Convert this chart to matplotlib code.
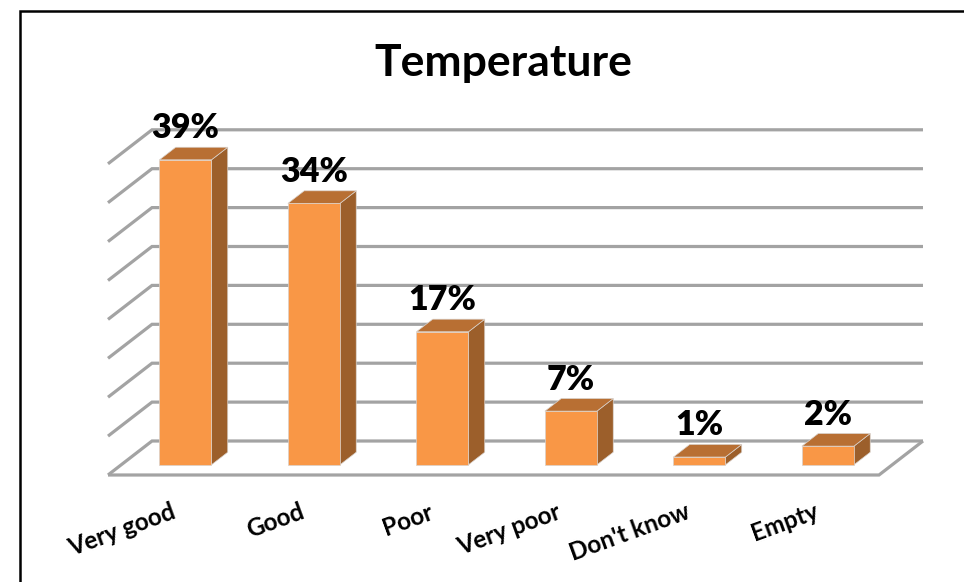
import matplotlib
matplotlib.use("Agg")
import matplotlib.pyplot as plt
from matplotlib.patches import Polygon
from matplotlib.lines import Line2D
from matplotlib.transforms import ScaledTranslation

categories = ["Very good", "Good", "Poor", "Very poor", "Don't know", "Empty"]
values = [39.2, 33.6, 17.1, 6.9, 1.0, 2.4]
value_labels = ["39%", "34%", "17%", "7%", "1%", "2%"]
grid_values = [0, 5, 10, 15, 20, 25, 30, 35, 40]

W, H = 964, 582
plt.rcParams["font.family"] = ["Lato", "DejaVu Sans"]
fig = plt.figure(figsize=(W / 100, H / 100), dpi=100, facecolor="white")

# floor front edge in pixels: x 108..879, y 475
left, right, floor_y = 108, 879, 475
px_y = 7.78                      # pixels per percent
px_x = (right - left) / 6        # pixels per category
ax = fig.add_axes([left / W, (H - floor_y) / H, (right - left) / W, 40 * px_y / H])
ax.set_xlim(-0.5, 5.5)
ax.set_ylim(0, 40)
ax.patch.set_visible(False)
for s in ax.spines.values():
    s.set_visible(False)
ax.set_yticks([])

# oblique depth: full depth in data units
DX = 44 / px_x
DY = 34 / px_y


def pt(x, y, d):
    return (x + d * DX, y + d * DY)


GRID = "#a3a3a3"
LW = 2.3
x0, x1 = -0.5, 5.5
for g in grid_values:
    ax.plot(*zip(pt(x0, g, 0), pt(x0, g, 1), pt(x1, g, 1)), color=GRID, lw=LW,
            clip_on=False, zorder=1, solid_capstyle="butt", solid_joinstyle="miter")
ax.plot(*zip(pt(x0, 0, 0), pt(x1, 0, 0), pt(x1, 0, 1)), color=GRID, lw=LW,
        clip_on=False, zorder=1, solid_capstyle="butt", solid_joinstyle="miter")

FRONT, SIDE, TOP = "#F99746", "#9C5F2B", "#B86F33"
EDGE = "#d9d2cc"
bw = 52 / px_x
d0, d1 = 0.30, 0.67
for i, v in enumerate(values):
    xl, xr = i - bw / 2, i + bw / 2
    side = [pt(xr, 0, d0), pt(xr, 0, d1), pt(xr, v, d1), pt(xr, v, d0)]
    top = [pt(xl, v, d0), pt(xr, v, d0), pt(xr, v, d1), pt(xl, v, d1)]
    front = [pt(xl, 0, d0), pt(xr, 0, d0), pt(xr, v, d0), pt(xl, v, d0)]
    for poly, c in ((side, SIDE), (top, TOP), (front, FRONT)):
        ax.add_patch(Polygon(poly, closed=True, facecolor=c, edgecolor=EDGE, lw=0.5,
                             clip_on=False, zorder=3, joinstyle="round"))
    fx, fy = pt(i, v, d0)
    ax.annotate(value_labels[i], xy=(fx, fy), xytext=(0, 15.5), textcoords="offset points",
                ha="center", va="baseline", fontsize=24.5, fontweight="heavy",
                color="black", zorder=5, annotation_clip=False)

ax.set_xticks(range(len(categories)))
ax.set_xticklabels(categories, rotation=20, ha="right", va="top", rotation_mode="anchor",
                   fontsize=17.5, fontweight="bold", color="black")
ax.tick_params(axis="x", length=0, pad=18)
shift = ScaledTranslation(-1 / 72, 0, fig.dpi_scale_trans)
for t in ax.get_xticklabels():
    t.set_transform(t.get_transform() + shift)

fig.text(503 / W, 1 - 76 / H, "Temperature", ha="center", va="baseline",
         fontsize=32, fontweight="bold", color="black")

# outer frame
fig.add_artist(Line2D([20 / W, 20 / W, 1], [0, 1 - 10.5 / H, 1 - 10.5 / H],
                      color="black", lw=1.8, solid_joinstyle="miter"))

fig.savefig("out.png", dpi=100)
